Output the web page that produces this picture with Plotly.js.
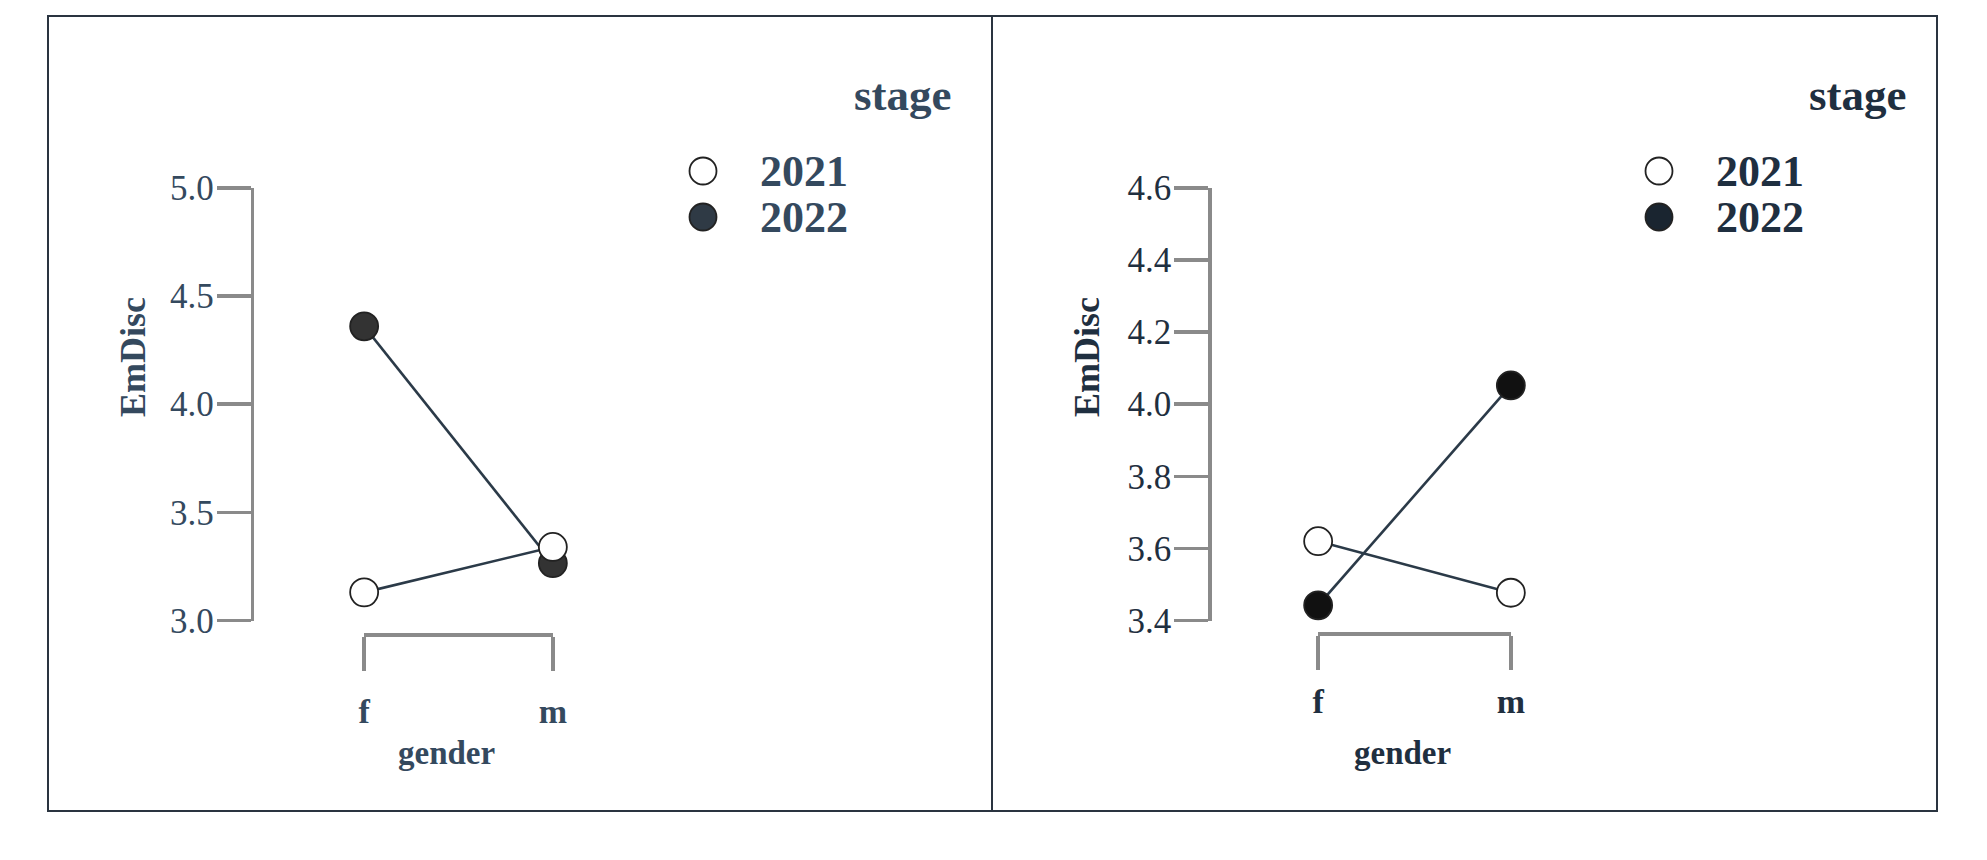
<!DOCTYPE html>
<html>
<head>
<meta charset="utf-8">
<script src="https://cdn.plot.ly/plotly-3.0.1.min.js"></script>
<style>html,body{margin:0;padding:0;background:#fff;}#chart{width:1987px;height:860px;}</style>
</head>
<body>
<div id="chart"></div>
<script>
// ---- data ----
const categories = ['f', 'm'];
const stages = ['2021', '2022'];
const leftEmDisc2021 = [3.13, 3.34];
const leftEmDisc2022 = [4.36, 3.265];
const rightEmDisc2021 = [3.62, 3.477];
const rightEmDisc2022 = [3.442, 4.052];
const leftYTicks = [3.0, 3.5, 4.0, 4.5, 5.0];
const rightYTicks = [3.4, 3.6, 3.8, 4.0, 4.2, 4.4, 4.6];
const xTitle = 'gender';
const yTitle = 'EmDisc';
const legendTitle = 'stage';

// ---- layout helpers ----
const W = 1987, H = 860;
const px = v => v / W;
const py = v => 1 - v / H;

const serif = 'Liberation Serif, Times New Roman, serif';
const lineCol = '#2b3a48';
const axisGray = '#8a8a8a';

function mk(xa, ya, y, fill, name) {
  return {
    type: 'scatter', mode: 'lines+markers', x: categories, y: y, xaxis: xa, yaxis: ya,
    name: name, showlegend: false, cliponaxis: false, hoverinfo: 'x+y',
    line: {color: lineCol, width: 2.6},
    marker: {size: 28, color: fill, line: {color: '#222', width: 1.8}}
  };
}

const traces = [
  mk('x', 'y', leftEmDisc2022, '#333333', stages[1]),
  mk('x', 'y', leftEmDisc2021, '#ffffff', stages[0]),
  mk('x2', 'y2', rightEmDisc2022, '#111111', stages[1]),
  mk('x2', 'y2', rightEmDisc2021, '#ffffff', stages[0])
];

function xAxis(d0, d1, pos, standoff, col) {
  return {
    domain: [px(d0), px(d1)], range: [-0.0008, categories.length - 1 + 0.0008],
    anchor: 'free', position: pos, type: 'category', categoryarray: categories,
    showline: true, linecolor: axisGray, linewidth: 3.5,
    ticks: 'outside', ticklen: 34, tickwidth: 3.5, tickcolor: axisGray,
    ticklabelstandoff: standoff,
    tickfont: {family: serif, size: 34, weight: 'bold', color: col},
    showgrid: false, zeroline: false, fixedrange: true
  };
}
function yAxis(pos, tickv, col) {
  const lo = tickv[0], hi = tickv[tickv.length - 1];
  const pad = (hi - lo) * 0.0005;
  return {
    domain: [py(620.7), py(187.7)], range: [lo - pad, hi + pad],
    anchor: 'free', position: pos,
    tickmode: 'array', tickvals: tickv, ticktext: tickv.map(v => v.toFixed(1)),
    showline: true, linecolor: axisGray, linewidth: 3.5,
    ticks: 'outside', ticklen: 34, tickwidth: 3.5, tickcolor: axisGray,
    ticklabelstandoff: -4,
    tickfont: {family: serif, size: 35, color: col},
    showgrid: false, zeroline: false, fixedrange: true
  };
}

const colL = '#34495e', colR = '#1f2f40';

const annotations = [];
const shapes = [];
function panel(x0, x1, yTitleX, genderX, stageRight, circX, textX, col, fill2022) {
  shapes.push({type: 'rect', xref: 'paper', yref: 'paper', x0: px(x0), x1: px(x1), y0: py(811), y1: py(16),
    line: {color: '#2a3440', width: 2}, fillcolor: 'rgba(0,0,0,0)', layer: 'above'});
  annotations.push({xref: 'paper', yref: 'paper', x: px(yTitleX), y: py(357), text: yTitle, textangle: -90,
    showarrow: false, xanchor: 'center', yanchor: 'middle', font: {family: serif, size: 36, weight: 'bold', color: col}});
  annotations.push({xref: 'paper', yref: 'paper', x: px(genderX), y: py(753), text: xTitle,
    showarrow: false, xanchor: 'center', yanchor: 'middle', font: {family: serif, size: 33, weight: 'bold', color: col}});
  annotations.push({xref: 'paper', yref: 'paper', x: px(stageRight), y: py(95), text: legendTitle,
    showarrow: false, xanchor: 'right', yanchor: 'middle', font: {family: serif, size: 45, weight: 'bold', color: col}});
  const ys = [171, 217];
  stages.forEach((s, i) => {
    annotations.push({xref: 'paper', yref: 'paper', x: px(textX), y: py(ys[i] + 1), text: s,
      showarrow: false, xanchor: 'left', yanchor: 'middle', font: {family: serif, size: 44, weight: 'bold', color: col}});
    shapes.push({type: 'circle', xref: 'paper', yref: 'paper', x0: px(circX - 13.5), x1: px(circX + 13.5),
      y0: py(ys[i] + 13.5), y1: py(ys[i] - 13.5),
      fillcolor: i === 0 ? '#ffffff' : fill2022, line: {color: '#222', width: 1.8}});
  });
}
panel(48, 992, 133, 446.5, 953, 703, 758, colL, '#2f3a45');
panel(992, 1937, 1087, 1402, 1908, 1659, 1714, colR, '#1a2530');

const layout = {
  width: W, height: H, margin: {l: 0, r: 0, t: 0, b: 0},
  paper_bgcolor: '#ffffff', plot_bgcolor: 'rgba(0,0,0,0)',
  showlegend: false,
  xaxis: xAxis(364, 553, py(634), 12, colL),
  yaxis: yAxis(px(251.7), leftYTicks, colL),
  xaxis2: xAxis(1318, 1511, py(633.3), 2, colR),
  yaxis2: yAxis(px(1209.3), rightYTicks, colR),
  annotations: annotations, shapes: shapes
};

Plotly.newPlot('chart', traces, layout, {displayModeBar: false, staticPlot: true});
</script>
</body>
</html>
